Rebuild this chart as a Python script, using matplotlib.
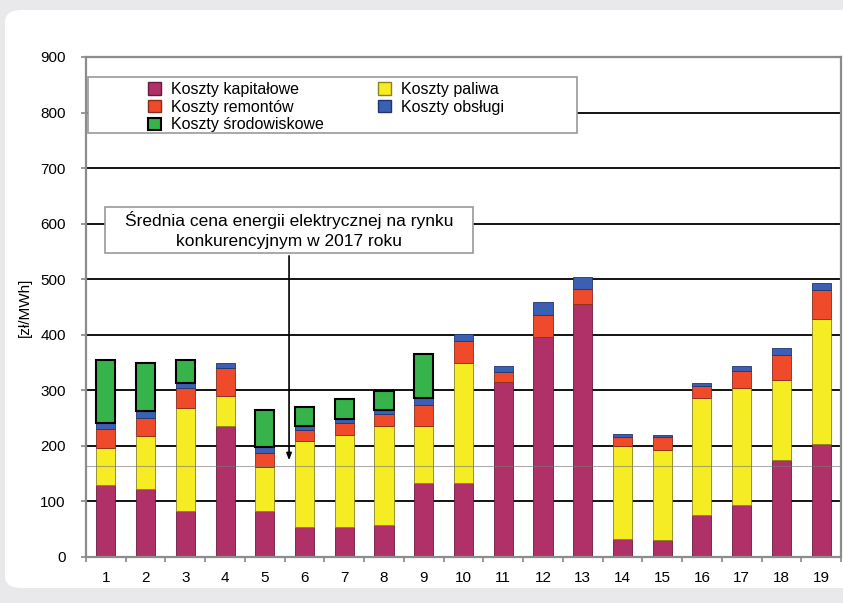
import matplotlib.pyplot as plt
import numpy as np
from matplotlib.patches import FancyBboxPatch, Rectangle, Patch

plt.rcParams['font.family'] = ['Liberation Sans', 'DejaVu Sans']

# dane [zł/MWh]
technologie = [str(i) for i in range(1, 20)]
kapitalowe = [130, 123, 83, 236, 83, 54, 54, 58, 133, 134, 315, 396, 456, 32, 30, 76, 94, 175, 204]
paliwa = [67, 94, 185, 53, 79, 154, 166, 177, 103, 216, 0, 0, 0, 168, 162, 211, 211, 144, 224]
remonty = [33, 33, 36, 52, 25, 20, 21, 22, 38, 39, 18, 40, 27, 16, 24, 21, 30, 45, 52]
obsluga = [12, 12, 9, 9, 11, 8, 7, 7, 13, 12, 11, 23, 21, 6, 4, 5, 8, 13, 14]
srodowisko = [112, 88, 41, 0, 66, 34, 36, 34, 79, 0, 0, 0, 0, 0, 0, 0, 0, 0, 0]
srednia_cena = 163

fig = plt.figure(figsize=(8.43, 6.03), dpi=100, facecolor="#e9e9ec")
panel = FancyBboxPatch((5 / 843, 15 / 603), 1.05, 578 / 603,
                       boxstyle="round,pad=0,rounding_size=0.02",
                       transform=fig.transFigure, facecolor="white",
                       edgecolor="none", zorder=-10)
fig.patches.append(panel)
ax = fig.add_axes([86 / 843, 46 / 603, 755 / 843, 500 / 603])
ax.set_zorder(1)
ax.patch.set_alpha(0)

x = np.arange(1, 20)
w = 0.48
b1 = np.array(kapitalowe)
b2 = b1 + np.array(paliwa)
b3 = b2 + np.array(remonty)
b4 = b3 + np.array(obsluga)

ax.bar(x, kapitalowe, w, color="#b03168", edgecolor="#6a1a3c", lw=0.6, zorder=3)
ax.bar(x, paliwa, w, bottom=b1, color="#f6ec23", edgecolor="#8a8420", lw=0.6, zorder=3)
ax.bar(x, remonty, w, bottom=b2, color="#ef4a2a", edgecolor="#8a2a18", lw=0.6, zorder=3)
ax.bar(x, obsluga, w, bottom=b3, color="#3a5fb3", edgecolor="#1e3570", lw=0.6, zorder=3)
sr = np.array(srodowisko)
ax.bar(x[sr > 0], sr[sr > 0], w, bottom=b4[sr > 0], color="#36b34a",
       edgecolor="black", lw=1.5, zorder=3)

ax.axhline(srednia_cena, color="#777777", lw=0.8, alpha=0.6, zorder=4)

ax.set_xlim(0.5, 19.5)
ax.set_ylim(0, 900)
ax.set_yticks(range(0, 1000, 100))
ax.yaxis.grid(True, color="black", lw=1.3, zorder=1)
ax.set_axisbelow(True)
ax.set_xticks(x)
ax.set_xticklabels(technologie, fontsize=11)
ax.set_xticks(np.arange(0.5, 20, 1), minor=True)
ax.tick_params(axis="x", which="major", length=0, pad=10)
ax.tick_params(axis="x", which="minor", length=3.6, color="#888888", width=1.2)
ax.tick_params(axis="y", length=3.6, color="#888888", width=1.2, pad=11, labelsize=11)
for s in ax.spines.values():
    s.set_color("#8c8c8c")
    s.set_linewidth(1.6)
    s.set_zorder(5)
ax.set_ylabel("[zł/MWh]", fontsize=11, labelpad=6)

# ramka legendy
ax.add_patch(Rectangle((0.002, 0.848), 0.648, 0.112, transform=ax.transAxes,
                       facecolor="white", edgecolor="#999999", lw=1.2, zorder=6))
uchwyty = [Patch(facecolor="#b03168", edgecolor="#6a1a3c", label="Koszty kapitałowe"),
           Patch(facecolor="#ef4a2a", edgecolor="#8a2a18", label="Koszty remontów"),
           Patch(facecolor="#36b34a", edgecolor="black", lw=1.5, label="Koszty środowiskowe"),
           Patch(facecolor="#f6ec23", edgecolor="#8a8420", label="Koszty paliwa"),
           Patch(facecolor="#3a5fb3", edgecolor="#1e3570", label="Koszty obsługi")]
leg = ax.legend(handles=uchwyty, ncol=2, loc="upper left", bbox_to_anchor=(0.072, 0.966),
                frameon=False, fontsize=11.5, handlelength=0.8, handleheight=0.8,
                handletextpad=0.62, labelspacing=0.17, columnspacing=3.4, borderpad=0)
leg.set_zorder(7)

# adnotacja o średniej cenie
xa = 5.61
ax.add_patch(Rectangle((0.978, 547), 9.26, 83, facecolor="white",
                       edgecolor="#999999", lw=1.2, zorder=6))
ax.annotate("", xy=(xa, srednia_cena + 6), xytext=(xa, 547),
            arrowprops=dict(arrowstyle="-|>,head_width=0.15,head_length=0.4",
                            color="black", lw=1.2), zorder=6)
ax.text(xa, 589, "Średnia cena energii elektrycznej na rynku\nkonkurencyjnym w 2017 roku",
        ha="center", va="center", fontsize=12.5, linespacing=1.4, zorder=7)

fig.savefig("out.png", dpi=100, facecolor=fig.get_facecolor())
